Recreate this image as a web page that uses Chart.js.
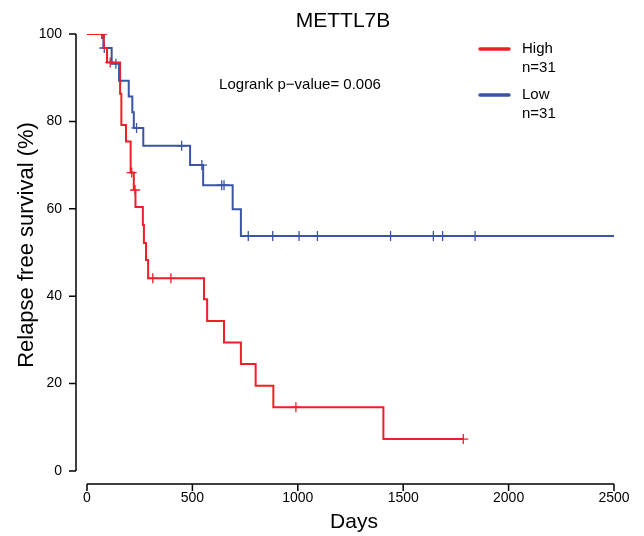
<!DOCTYPE html>
<html lang="en">
<head>
    <meta charset="UTF-8">
    <title>METTL7B</title>
    <script src="https://cdn.jsdelivr.net/npm/chart.js"></script>
    <style>
        body { margin: 0; background: #ffffff; }
    </style>
</head>
<body>
    <canvas id="km-chart" width="644" height="536"></canvas>
    <script>
        // step curves: time of each event and survival (%) after it
        const highTimes = [0, 80, 95, 157, 163, 185, 207, 222, 230, 265, 270, 280, 290, 555, 570, 650, 730, 800, 884, 1406, 1785];
        const highSurv  = [100, 96.8, 93.5, 86.3, 79.2, 75.4, 68.3, 64.3, 60.4, 56.3, 52.2, 48.3, 44.1, 39.3, 34.3, 29.4, 24.5, 19.5, 14.6, 7.3, 7.3];
        const highCensor = [72, 110, 212, 228, 312, 398, 991, 1785];

        const lowTimes = [0, 78, 117, 152, 198, 215, 222, 267, 489, 551, 691, 730, 2500];
        const lowSurv  = [100, 96.8, 93.2, 89.3, 85.7, 82.1, 78.5, 74.4, 70.0, 65.4, 59.9, 53.8, 53.8];
        const lowCensor = [70, 82, 137, 235, 449, 545, 639, 650, 765, 881, 1006, 1093, 1440, 1643, 1687, 1841];

        const xTicks = [0, 500, 1000, 1500, 2000, 2500];
        const yTicks = [0, 20, 40, 60, 80, 100];

        const redColor = '#ee1f26';
        const blueColor = '#3b54a5';
        const fontName = '"Liberation Sans", Arial, sans-serif';

        function stepPoints(times, surv) {
            return times.map((t, i) => ({ x: t, y: surv[i] }));
        }

        // survival value at time t on a step curve
        function survAt(times, surv, t) {
            let v = surv[0];
            for (let i = 0; i < times.length; i++) {
                if (times[i] <= t) v = surv[i];
            }
            return v;
        }

        function censorPoints(times, surv, cens) {
            return cens.map(t => ({ x: t, y: survAt(times, surv, t) }));
        }

        // R-style detached axes, title, annotation and legend
        const decorations = {
            id: 'decorations',
            afterDraw(chart) {
                const ctx = chart.ctx;
                const xs = chart.scales.x;
                const ys = chart.scales.y;
                ctx.save();
                ctx.strokeStyle = '#000';
                ctx.lineWidth = 1.5;

                const axisY = 484;
                ctx.beginPath();
                ctx.moveTo(xs.getPixelForValue(xTicks[0]), axisY);
                ctx.lineTo(xs.getPixelForValue(xTicks[xTicks.length - 1]), axisY);
                xTicks.forEach(v => {
                    const px = xs.getPixelForValue(v);
                    ctx.moveTo(px, axisY);
                    ctx.lineTo(px, axisY + 7);
                });
                ctx.stroke();

                const axisX = 76;
                ctx.beginPath();
                ctx.moveTo(axisX, ys.getPixelForValue(yTicks[0]));
                ctx.lineTo(axisX, ys.getPixelForValue(yTicks[yTicks.length - 1]));
                yTicks.forEach(v => {
                    const py = ys.getPixelForValue(v);
                    ctx.moveTo(axisX, py);
                    ctx.lineTo(axisX - 7, py);
                });
                ctx.stroke();

                ctx.fillStyle = '#000';
                ctx.textAlign = 'center';
                ctx.textBaseline = 'middle';
                ctx.font = '21px ' + fontName;
                ctx.fillText('METTL7B', 343, 21);
                ctx.fillText('Days', 354, 522);

                ctx.save();
                ctx.translate(27, 245);
                ctx.rotate(-Math.PI / 2);
                ctx.font = '22px ' + fontName;
                ctx.fillText('Relapse free survival (%)', 0, 0);
                ctx.restore();

                ctx.textBaseline = 'alphabetic';
                ctx.font = '15px ' + fontName;
                ctx.fillText('Logrank p\u2212value= 0.006', 300, 89);

                // legend
                ctx.textAlign = 'left';
                ctx.textBaseline = 'middle';
                ctx.lineWidth = 3.5;
                ctx.lineCap = 'round';
                [[redColor, 'High', 49], [blueColor, 'Low', 95]].forEach(([c, label, y]) => {
                    ctx.strokeStyle = c;
                    ctx.beginPath();
                    ctx.moveTo(480, y);
                    ctx.lineTo(509, y);
                    ctx.stroke();
                    ctx.fillText(label, 522, y);
                    ctx.fillText('n=31', 522, y + 19);
                });
                ctx.restore();
            }
        };

        const ctx = document.getElementById('km-chart').getContext('2d');
        new Chart(ctx, {
            type: 'scatter',
            data: {
                datasets: [
                    {
                        label: 'High',
                        data: stepPoints(highTimes, highSurv),
                        showLine: true,
                        stepped: true,
                        borderColor: redColor,
                        borderWidth: 2,
                        pointRadius: 0,
                        fill: false
                    },
                    {
                        label: 'Low',
                        data: stepPoints(lowTimes, lowSurv),
                        showLine: true,
                        stepped: true,
                        borderColor: blueColor,
                        borderWidth: 2,
                        pointRadius: 0,
                        fill: false
                    },
                    {
                        label: 'High censored',
                        data: censorPoints(highTimes, highSurv, highCensor),
                        showLine: false,
                        pointStyle: 'cross',
                        pointRadius: 5,
                        borderColor: redColor,
                        borderWidth: 1.3
                    },
                    {
                        label: 'Low censored',
                        data: censorPoints(lowTimes, lowSurv, lowCensor),
                        showLine: false,
                        pointStyle: 'cross',
                        pointRadius: 5,
                        borderColor: blueColor,
                        borderWidth: 1.3
                    }
                ]
            },
            options: {
                responsive: false,
                animation: false,
                events: [],
                layout: { padding: { top: 34, right: 30, left: 0, bottom: 0 } },
                plugins: {
                    legend: { display: false },
                    tooltip: { enabled: false }
                },
                scales: {
                    x: {
                        type: 'linear',
                        min: 0,
                        max: 2500,
                        afterBuildTicks: scale => { scale.ticks = xTicks.map(v => ({ value: v })); },
                        afterFit: scale => {
                            scale.height = 65;
                            scale.paddingLeft = 0;
                            scale.paddingRight = 0;
                        },
                        grid: { display: false, drawTicks: false },
                        border: { display: false },
                        ticks: {
                            padding: 19,
                            color: '#000',
                            autoSkip: false,
                            maxRotation: 0,
                            font: { family: fontName, size: 14 },
                            callback: value => String(value)
                        }
                    },
                    y: {
                        type: 'linear',
                        min: 0,
                        max: 100,
                        afterBuildTicks: scale => { scale.ticks = yTicks.map(v => ({ value: v })); },
                        afterFit: scale => {
                            scale.width = 87;
                            scale.paddingTop = 0;
                            scale.paddingBottom = 0;
                        },
                        grid: { display: false, drawTicks: false },
                        border: { display: false },
                        ticks: {
                            padding: 25,
                            color: '#000',
                            autoSkip: false,
                            font: { family: fontName, size: 14 },
                            callback: value => String(value)
                        }
                    }
                }
            },
            plugins: [decorations]
        });
    </script>
</body>
</html>
